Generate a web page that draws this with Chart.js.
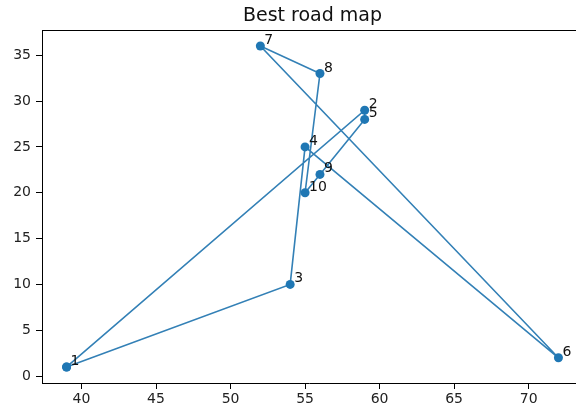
<!DOCTYPE html>
<html>
<head>
<meta charset="utf-8">
<script src="https://cdn.jsdelivr.net/npm/chart.js@4.4.1/dist/chart.umd.min.js"></script>
<style>
html,body{margin:0;padding:0;overflow:hidden;background:#fff;}
canvas{display:block;}
</style>
</head>
<body>
<canvas id="c" width="576" height="411"></canvas>
<script>
// City data (labels 1..10)
const cityLabels = ["1","2","3","4","5","6","7","8","9","10"];
const cityX = [39, 59, 54, 55, 59, 72, 52, 56, 56, 55];
const cityY = [1, 29, 10, 25, 28, 2, 36, 33, 22, 20];
// Tour order (1-based city numbers), closed loop
const tourOrder = [1, 3, 4, 6, 7, 8, 10, 9, 5, 2, 1];
// Tick labels
const xTicks = [40, 45, 50, 55, 60, 65, 70];
const yTicks = [0, 5, 10, 15, 20, 25, 30, 35];
const chartTitle = "Best road map";

const BLUE = '#1f77b4';
const FONT = "'DejaVu Sans', sans-serif";

const pathData = tourOrder.map(n => ({x: cityX[n-1], y: cityY[n-1]}));

const xMin = Math.min(...cityX), xMax = Math.max(...cityX);
const yMin = Math.min(...cityY), yMax = Math.max(...cityY);
const xPad = (xMax - xMin) * 0.05, yPad = (yMax - yMin) * 0.05;
const axLo = xMin - xPad, axHi = xMax + xPad;   // full axes range
// the reference image is cropped slightly before the right spine
const visibleFrac = 0.987;
const xVisibleMax = axLo + (axHi - axLo) * visibleFrac;

const framePlugin = {
  id: 'frame',
  afterDraw(chart) {
    const {ctx, chartArea: a, scales} = chart;
    ctx.save();
    ctx.strokeStyle = '#000';
    ctx.lineWidth = 1;
    ctx.beginPath();
    ctx.moveTo(a.left, a.top + 0.5);
    ctx.lineTo(a.right, a.top + 0.5);
    ctx.stroke();
    // title centred over the full axes
    const cx = scales.x.getPixelForValue((axLo + axHi) / 2);
    ctx.fillStyle = '#111';
    ctx.font = "19px " + FONT;
    ctx.textAlign = 'center';
    ctx.textBaseline = 'alphabetic';
    ctx.fillText(chartTitle, cx, a.top - 9);
    ctx.restore();
  }
};

const labelPlugin = {
  id: 'cityLabels',
  afterDatasetsDraw(chart) {
    const {ctx, scales} = chart;
    ctx.save();
    ctx.fillStyle = '#111';
    ctx.font = "14px " + FONT;
    ctx.textAlign = 'left';
    ctx.textBaseline = 'alphabetic';
    cityLabels.forEach((lab, i) => {
      const px = scales.x.getPixelForValue(cityX[i]) + 4;
      const py = scales.y.getPixelForValue(cityY[i]) - 2;
      ctx.fillText(lab, px, py);
    });
    ctx.restore();
  }
};

new Chart(document.getElementById('c'), {
  type: 'scatter',
  data: {
    datasets: [{
      data: pathData,
      showLine: true,
      borderColor: '#3380b6',
      borderWidth: 1.6,
      backgroundColor: BLUE,
      pointBackgroundColor: BLUE,
      pointBorderColor: BLUE,
      pointRadius: 4.5,
      pointBorderWidth: 0,
      tension: 0,
      fill: false,
      clip: false
    }]
  },
  options: {
    responsive: false,
    animation: false,
    devicePixelRatio: 1,
    layout: {autoPadding: false, padding: {left: 0, right: 0, top: 30, bottom: 0}},
    plugins: {
      legend: {display: false},
      tooltip: {enabled: false},
      title: {display: false}
    },
    scales: {
      x: {
        type: 'linear',
        min: axLo,
        max: xVisibleMax,
        afterBuildTicks(s) { s.ticks = xTicks.map(v => ({value: v})); },
        afterFit(s) { s.height = 28; },
        grid: {drawOnChartArea: false, drawTicks: true, tickLength: 6, color: '#000'},
        border: {display: true, color: '#000', width: 1},
        ticks: {color: '#222', font: {family: FONT, size: 14}, padding: 2, maxRotation: 0, autoSkip: false}
      },
      y: {
        type: 'linear',
        min: yMin - yPad,
        max: yMax + yPad,
        afterBuildTicks(s) { s.ticks = yTicks.map(v => ({value: v})); },
        afterFit(s) { s.width = 42; },
        grid: {drawOnChartArea: false, drawTicks: true, tickLength: 6, color: '#000'},
        border: {display: true, color: '#000', width: 1},
        ticks: {color: '#222', font: {family: FONT, size: 14}, padding: 5, autoSkip: false}
      }
    }
  },
  plugins: [framePlugin, labelPlugin]
});
</script>
</body>
</html>
